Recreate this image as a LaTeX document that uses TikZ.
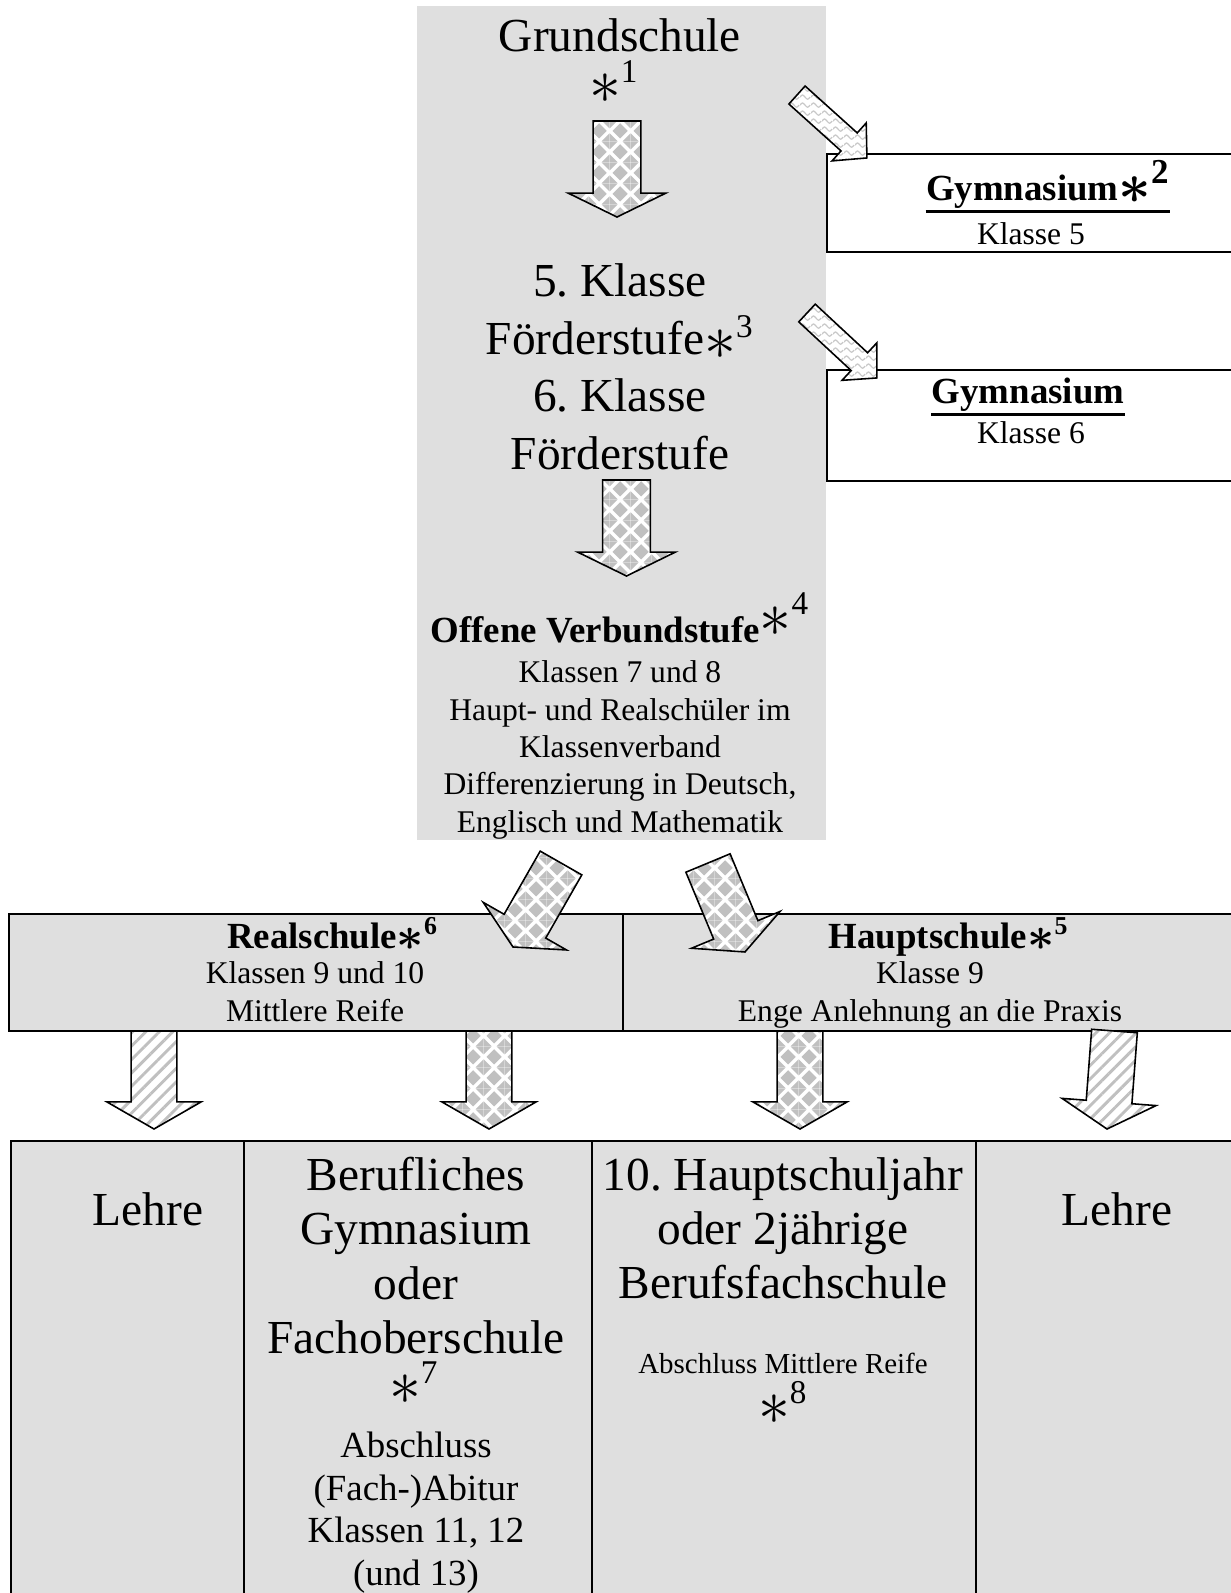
\documentclass[tikz,border=0pt]{standalone}
\usepackage{fontspec}
\setmainfont{Liberation Serif}
\usetikzlibrary{calc, patterns, patterns.meta}
\frenchspacing

\definecolor{boxGrey}{RGB}{223, 223, 223}
\definecolor{patGrey}{RGB}{192, 192, 192}
\definecolor{waveGrey}{RGB}{200, 200, 200}

\newcommand{\pxu}{0.38pt}
\newcommand{\fnote}[1]{\raisebox{-0.1em}{\scalebox{1.4}{$\ast$}}\textsuperscript{\smash{#1}}}
\newcommand{\bfnote}[1]{\raisebox{-0.06em}{\scalebox{1.25}{\boldmath$\ast$}}\textsuperscript{#1}}

% diamond checker fill of the big arrows
\pgfdeclarepatternformonly{diamonds}{\pgfqpoint{0pt}{0pt}}{\pgfqpoint{8pt}{8pt}}{\pgfqpoint{8pt}{8pt}}{%
  \pgfpathmoveto{\pgfqpoint{4pt}{1pt}}\pgfpathlineto{\pgfqpoint{7pt}{4pt}}%
  \pgfpathlineto{\pgfqpoint{4pt}{7pt}}\pgfpathlineto{\pgfqpoint{1pt}{4pt}}\pgfpathclose
  \pgfpathmoveto{\pgfqpoint{-0.1pt}{-0.1pt}}\pgfpathlineto{\pgfqpoint{3pt}{-0.1pt}}\pgfpathlineto{\pgfqpoint{-0.1pt}{3pt}}\pgfpathclose
  \pgfpathmoveto{\pgfqpoint{8.1pt}{-0.1pt}}\pgfpathlineto{\pgfqpoint{8.1pt}{3pt}}\pgfpathlineto{\pgfqpoint{5pt}{-0.1pt}}\pgfpathclose
  \pgfpathmoveto{\pgfqpoint{8.1pt}{8.1pt}}\pgfpathlineto{\pgfqpoint{5pt}{8.1pt}}\pgfpathlineto{\pgfqpoint{8.1pt}{5pt}}\pgfpathclose
  \pgfpathmoveto{\pgfqpoint{-0.1pt}{8.1pt}}\pgfpathlineto{\pgfqpoint{-0.1pt}{5pt}}\pgfpathlineto{\pgfqpoint{3pt}{8.1pt}}\pgfpathclose
  \pgfusepath{fill}}

% wavy fill of the arrows to the Gymnasium
\pgfdeclarepatternformonly{waves}{\pgfqpoint{0pt}{0pt}}{\pgfqpoint{4pt}{3pt}}{\pgfqpoint{4pt}{3pt}}{%
  \pgfsetlinewidth{0.45pt}
  \pgfpathmoveto{\pgfqpoint{0pt}{1.5pt}}
  \pgfpathcurveto{\pgfqpoint{1pt}{2.6pt}}{\pgfqpoint{1pt}{2.6pt}}{\pgfqpoint{2pt}{1.5pt}}
  \pgfpathcurveto{\pgfqpoint{3pt}{0.4pt}}{\pgfqpoint{3pt}{0.4pt}}{\pgfqpoint{4pt}{1.5pt}}
  \pgfusepath{stroke}}

% block arrow: style, from, to, shaft half width, head half width, head length
\newcommand{\fatarrow}[6]{%
  \path[#1] let \p1=(#2), \p2=(#3),
      \n1={atan2(\y2-\y1,\x2-\x1)}, \n2={veclen(\x2-\x1,\y2-\y1)} in
    [shift={(\p1)}, rotate=\n1]
    (0pt,-#4) -- ({\n2*1pt-#6},-#4) -- ({\n2*1pt-#6},-#5) -- ({\n2*1pt},0pt)
    -- ({\n2*1pt-#6},#5) -- ({\n2*1pt-#6},#4) -- (0pt,#4) -- cycle;}

\begin{document}
\begin{tikzpicture}[
        x=0.38pt, y=0.38pt,
        grey box/.style={fill=boxGrey, inner sep=0pt, anchor=north west},
        frame box/.style={draw, line width=0.8pt, inner sep=0pt, anchor=north west},
        big/.style={font=\fontsize{18}{20.7}\selectfont, align=center, inner sep=0pt},
        head/.style={font=\fontsize{14}{16.5}\selectfont\bfseries, inner sep=0pt},
        mid/.style={font=\fontsize{14}{16.3}\selectfont, align=center, inner sep=0pt},
        small/.style={font=\fontsize{12}{14.2}\selectfont, align=center, inner sep=0pt},
        underline/.style={line width=1.1pt},
        arrow base/.style={draw, line width=0.6pt, preaction={fill=white}},
        checker arrow/.style={arrow base, pattern=diamonds, pattern color=patGrey},
        wave arrow/.style={arrow base, pattern=waves, pattern color=waveGrey},
        stripe arrow/.style={arrow base, pattern={Lines[angle=45, distance=3.6pt, line width=1.1pt]}, pattern color=patGrey}
    ]

    \useasboundingbox (0,0) rectangle (1231,-1593);
    \clip (0,0) rectangle (1231,-1593);

    % boxes
    \node[grey box, minimum width=409*\pxu, minimum height=834*\pxu] (column) at (416,-5) {};
    \node[frame box, minimum width=440*\pxu, minimum height=98*\pxu] (gym 5 box) at (826,-153) {};
    \node[frame box, minimum width=440*\pxu, minimum height=111*\pxu] (gym 6 box) at (826,-369) {};

    \node[grey box, frame box, minimum width=614*\pxu, minimum height=117*\pxu] (real box) at (8,-913) {};
    \node[grey box, frame box, minimum width=640*\pxu, minimum height=117*\pxu] (haupt box) at (622,-913) {};

    \foreach \name/\left/\wide in {lehre a/10/233, beruf/243/348, hsj/591/384, lehre b/975/300} {
        \node[grey box, frame box, minimum width=\wide*\pxu, minimum height=470*\pxu] (\name\space box) at (\left,-1140) {};
    }

    % arrow ends
    \foreach \name/\fx/\fy/\tx/\ty in {grund/617/121/617/217, foerder/626.5/480/626.5/576,
            gym 5/797/95/867/158, gym 6/807/313/877/378, real/561/863/513/947, haupt/708/863/745/952,
            lehre a/154/1031/154/1129, beruf/489/1031/489/1129, hsj/800/1031/800/1129, lehre b/1114.5/1031/1107/1129} {
        \coordinate (\name\space from) at (\fx,-\fy);
        \coordinate (\name\space to) at (\tx,-\ty);
    }

    \foreach \name in {grund, foerder} {
        \fatarrow{checker arrow}{\name\space from}{\name\space to}{9.1pt}{18.6pt}{9.1pt}
    }
    \foreach \name in {gym 5, gym 6} {
        \fatarrow{wave arrow}{\name\space from}{\name\space to}{4.6pt}{9.7pt}{9.1pt}
    }
    \foreach \name in {real, haupt} {
        \fatarrow{checker arrow}{\name\space from}{\name\space to}{9.1pt}{18.2pt}{9.1pt}
    }
    \foreach \name in {beruf, hsj} {
        \fatarrow{checker arrow}{\name\space from}{\name\space to}{8.7pt}{17.9pt}{10.3pt}
    }
    \foreach \name in {lehre a, lehre b} {
        \fatarrow{stripe arrow}{\name\space from}{\name\space to}{8.7pt}{17.9pt}{10.3pt}
    }

    % texts of the column
    \node[big, anchor=base] (grund) at (620,-51) {Grundschule};
    \node[big, anchor=base] (grund note) at (614,-99) {\fnote{1}};
    \node[big, anchor=north, font=\fontsize{18}{21.8}\selectfont] (foerder) at (620,-263.5)
        {5. Klasse\\Förderstufe\fnote{3}\\6. Klasse\\Förderstufe};
    \node[head, anchor=base] (verbund) at (620,-642)
        {Offene Verbundstufe\raisebox{4pt}{\mdseries\fontsize{18}{18}\selectfont\fnote{4}}};
    \node[small, anchor=north] (verbund text) at (620,-660.4)
        {Klassen 7 und 8\\Haupt- und Realschüler im\\Klassenverband\\Differenzierung in Deutsch,\\Englisch und Mathematik};

    % Gymnasium
    \node[head, anchor=base] (gym 5) at (1048,-200)
        {Gymnasium{\fontsize{19}{19}\selectfont\bfnote{2}}};
    \draw[underline] ([yshift=-1pt]gym 5.south west) -- ([yshift=-1pt]gym 5.south east);
    \node[small, anchor=base] (gym 5 text) at (1031,-244) {Klasse 5};
    \node[head, anchor=base] (gym 6) at (1028,-403) {Gymnasium};
    \draw[underline] ([yshift=-1pt]gym 6.south west) -- ([yshift=-1pt]gym 6.south east);
    \node[small, anchor=base] (gym 6 text) at (1031,-443) {Klasse 6};

    % Realschule / Hauptschule
    \node[head, anchor=base] (real) at (312,-948) {Realschule\rlap{\bfnote{6}}};
    \node[small, anchor=north] (real text) at (315,-961.4) {Klassen 9 und 10\\Mittlere Reife};
    \node[head, anchor=base] (haupt) at (928,-948) {Hauptschule\rlap{\bfnote{5}}};
    \node[small, anchor=north] (haupt text) at (930,-961.4) {Klasse 9\\Enge Anlehnung an die Praxis};

    % bottom row
    \node[big, anchor=base] (lehre a) at (148,-1225) {Lehre};
    \node[big, anchor=north] (beruf) at (416,-1156.6) {Berufliches\\Gymnasium\\oder\\Fachoberschule};
    \node[big, anchor=base] (beruf note) at (414,-1400) {\fnote{7}};
    \node[mid, anchor=north] (beruf text) at (416,-1431) {Abschluss\\(Fach-)Abitur\\Klassen 11, 12\\(und 13)};
    \node[big, anchor=north] (hsj) at (783,-1156.6) {10. Hauptschuljahr\\oder 2jährige\\Berufsfachschule};
    \node[font=\fontsize{11}{13}\selectfont, inner sep=0pt, anchor=base] (hsj text) at (783,-1373) {Abschluss Mittlere Reife};
    \node[big, anchor=base] (hsj note) at (783,-1420) {\fnote{8}};
    \node[big, anchor=base] (lehre b) at (1117,-1225) {Lehre};

\end{tikzpicture}
\end{document}
